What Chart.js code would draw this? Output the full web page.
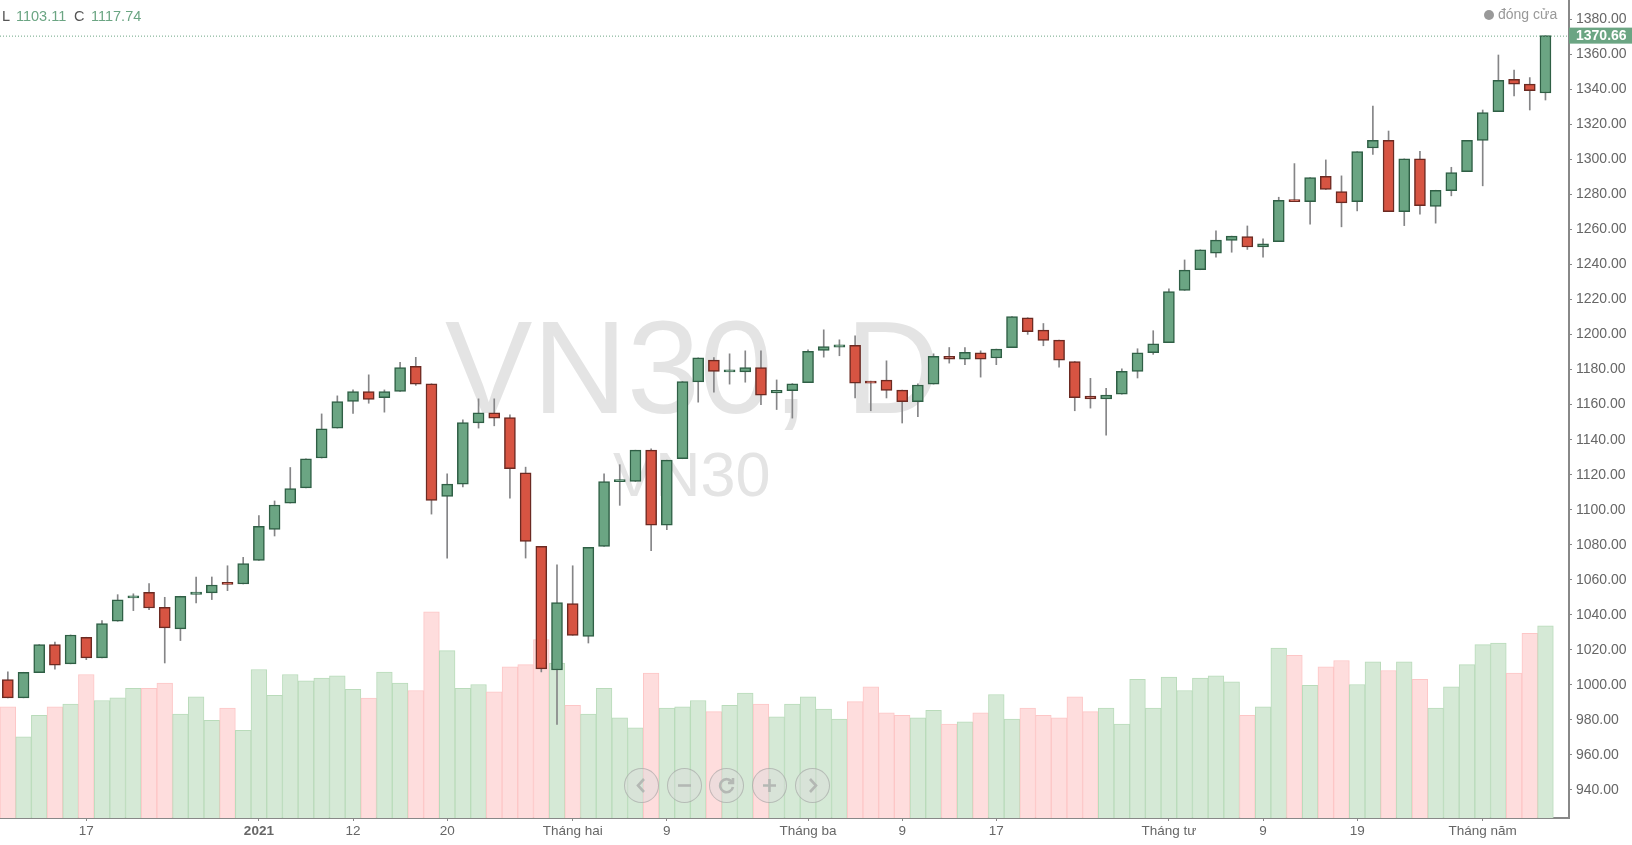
<!DOCTYPE html>
<html>
<head>
<meta charset="utf-8">
<title>VN30, D</title>
<script src="https://cdn.jsdelivr.net/npm/chart.js@4/dist/chart.umd.js"></script>
<style>
  html, body { margin: 0; padding: 0; background: #fff; overflow: hidden; }
  #wrap { position: relative; width: 1632px; height: 845px; font-family: "Liberation Sans", Arial, sans-serif; }
  #myChart { position: absolute; left: 0; top: 0; }
  .mark { position: absolute; line-height: 1; white-space: nowrap; color: #e4e4e4; }
  .head { position: absolute; top: 8px; font-size: 14.5px; line-height: 16px; color: #555; }
  .head.val { color: #6ba583; }
  .nav { position: absolute; top: 768px; width: 33px; height: 33px; border-radius: 50%;
         background: rgba(220, 220, 220, 0.45); border: 1px solid rgba(140, 140, 140, 0.45); }
  .nav svg { position: absolute; left: 8px; top: 8px; width: 17px; height: 17px; fill: none;
             stroke: #b4b8b4; stroke-width: 2.6; }
</style>
</head>
<body>
<div id="wrap">
  <div class="mark" style="left:445px;top:302px;font-size:131px">VN30, D</div>
  <div class="mark" style="left:613px;top:443px;font-size:63px">VN30</div>
  <canvas id="myChart" width="1632" height="845"></canvas>
  <div class="head" style="left:2px">L</div>
  <div class="head val" style="left:16px">1103.11</div>
  <div class="head" style="left:74px">C</div>
  <div class="head val" style="left:91px">1117.74</div>
  <div style="position:absolute;left:1484px;top:10px;width:10px;height:10px;border-radius:50%;background:#999"></div>
  <div class="head" style="left:1498px;top:6px;color:#999;font-size:14px">đóng cửa</div>
  <div class="nav" style="left:624px"><svg viewBox="0 0 17 17"><path d="M11 2 L5 8.5 L11 15"/></svg></div>
  <div class="nav" style="left:667px"><svg viewBox="0 0 17 17"><path d="M2 8.5 H15"/></svg></div>
  <div class="nav" style="left:709px"><svg viewBox="0 0 17 17"><path d="M14 5 A6.5 6.5 0 1 0 15 10 M15 1 V6 H10"/></svg></div>
  <div class="nav" style="left:752px"><svg viewBox="0 0 17 17"><path d="M2 8.5 H15 M8.5 2 V15"/></svg></div>
  <div class="nav" style="left:795px"><svg viewBox="0 0 17 17"><path d="M6 2 L12 8.5 L6 15"/></svg></div>
</div>
<script>
const opens = [1003, 992.6, 1007, 1023, 1012, 1027.2, 1015.4, 1036.3, 1049.6, 1052.8,
	1044.3, 1032, 1051.7, 1052.5, 1057.8, 1057.6, 1071, 1088.8, 1103.8, 1112.5,
	1129.5, 1146.6, 1161.8, 1167.5, 1163.9, 1167.5, 1181.9, 1171.9, 1107.6, 1114.6,
	1149.6, 1155.3, 1152.6, 1121, 1079.1, 1008.5, 1046.4, 1027.7, 1079.1, 1116,
	1116.1, 1134, 1091.2, 1129.1, 1173, 1185.4, 1178.7, 1178.7, 1181.2, 1166.7,
	1168, 1172.5, 1190.9, 1192.8, 1193.8, 1173.4, 1174, 1168.3, 1161.7, 1171.7,
	1187.5, 1186, 1189.6, 1186.6, 1192.5, 1209.6, 1202.5, 1196.8, 1184.6, 1164.9,
	1163.2, 1166, 1179, 1189.6, 1195.3, 1225.2, 1237, 1246.5, 1253.7, 1256,
	1250, 1253.1, 1276.7, 1275.9, 1290.4, 1281.6, 1275.9, 1306.5, 1310.9, 1270.2,
	1300.3, 1273.1, 1282.2, 1293, 1310.9, 1327.3, 1345.7, 1343, 1337.9];
const highs = [1007.4, 1007.2, 1023, 1024.5, 1028.5, 1027.2, 1036.7, 1051.5, 1052, 1057.8,
	1050, 1050.6, 1061.6, 1061.6, 1068, 1072.8, 1096.6, 1105, 1124.1, 1129,
	1154.7, 1165, 1168.4, 1177, 1168.4, 1184.2, 1187, 1171.9, 1120.5, 1151.3,
	1163.3, 1163.3, 1154.2, 1124.3, 1079.1, 1068.6, 1068, 1078.5, 1120.5, 1125.7,
	1134, 1134.8, 1128.3, 1173.2, 1186.7, 1186.9, 1189, 1190.7, 1190.7, 1174.1,
	1172, 1191.3, 1202.7, 1197, 1199.3, 1173.4, 1185, 1168.3, 1171.9, 1189,
	1192.6, 1192.6, 1190.7, 1191.7, 1210.3, 1209.6, 1206.3, 1196.8, 1184.6, 1175,
	1169.3, 1180.5, 1191.9, 1202.2, 1226.1, 1242.6, 1248.4, 1259.2, 1256.2, 1262,
	1254.6, 1278.4, 1297.6, 1289.6, 1299.7, 1290.6, 1304.4, 1330.5, 1316.2, 1300.3,
	1304.6, 1282.4, 1295.5, 1310.9, 1328.2, 1359.6, 1351, 1346.7, 1370.66];
const lows = [992.6, 992.6, 1007, 1009, 1012, 1014.4, 1015.4, 1036.3, 1042.4, 1043,
	1012.5, 1025.3, 1046.8, 1048.7, 1053.8, 1057.6, 1071, 1085, 1103.8, 1112.5,
	1129.5, 1146.6, 1155, 1160.8, 1155.7, 1167.5, 1171, 1097.5, 1072.4, 1113,
	1146.6, 1147.9, 1106.6, 1072.4, 1007.4, 977.4, 1028.3, 1023.9, 1079.1, 1102.5,
	1116.1, 1076.6, 1088.6, 1129.1, 1161.4, 1167.1, 1171.7, 1172.8, 1160, 1157.2,
	1152.3, 1172.5, 1187.1, 1187.9, 1163.8, 1156.5, 1163.8, 1149.5, 1153.1, 1171.7,
	1183.7, 1182.8, 1175.7, 1182.8, 1192.5, 1200.1, 1193.6, 1181.4, 1156.5, 1158,
	1142.5, 1166, 1175.2, 1188.7, 1195.3, 1225.2, 1237, 1244.2, 1247, 1248.6,
	1244.2, 1253.1, 1275.9, 1263, 1282.8, 1261.5, 1270.6, 1302.9, 1270.2, 1262.2,
	1268.7, 1263.6, 1279.2, 1293, 1284.9, 1327.3, 1336.2, 1328.2, 1333.9];
const closes = [992.6, 1007.2, 1023, 1011.2, 1028.5, 1015.4, 1035, 1048.5, 1050.8, 1043.9,
	1032.5, 1050.6, 1053, 1057, 1057.4, 1069.2, 1090.5, 1102.7, 1112, 1129,
	1146.2, 1161.8, 1167.5, 1163, 1167.5, 1181.2, 1171.7, 1105.3, 1114.6, 1149.8,
	1155.3, 1152.3, 1123.4, 1081.9, 1009.1, 1047, 1028.3, 1078.5, 1116.1, 1116.4,
	1134, 1091.2, 1128.3, 1173.2, 1186.7, 1178.9, 1179, 1181.2, 1165.4, 1168.2,
	1171.9, 1190.4, 1193.2, 1194.2, 1172.3, 1172.3, 1168.1, 1161.7, 1171.2, 1187.5,
	1186, 1189.8, 1186, 1191.7, 1210.3, 1201.6, 1196.6, 1185.4, 1164, 1163.2,
	1165.5, 1179, 1189.6, 1194.7, 1224.6, 1236.8, 1248.4, 1253.9, 1256.2, 1250,
	1251.8, 1276.7, 1275.9, 1289.6, 1282.8, 1275.2, 1304.4, 1310.9, 1270.2, 1300.3,
	1273.6, 1282.4, 1292.5, 1310.9, 1326.7, 1345.1, 1342.9, 1339.2, 1370.66];
// relative volume, the real unit is not shown in the picture
const volumes = [63.5, 46.4, 58.6, 63.5, 65, 81.9, 67.1, 68.6, 74.1, 74.1,
	77, 59.3, 69.2, 55.7, 62.7, 50, 84.8, 70, 81.9, 78.3,
	79.9, 81.2, 73.4, 68.4, 83.3, 77, 72.8, 117.7, 95.6, 74.1,
	76.2, 72.1, 86.3, 87.6, 101.9, 88.4, 64.3, 59.3, 74.1, 57.2,
	51.5, 82.7, 62.7, 63.5, 67.1, 60.7, 64.3, 71.3, 65, 57.8,
	65, 69.2, 62.2, 56.5, 66.4, 74.9, 60.1, 58.6, 57.2, 61.4,
	53.6, 54.9, 60.1, 70.5, 56.5, 62.7, 58.6, 57.2, 69.2, 60.7,
	62.7, 53.6, 79.1, 62.7, 80.4, 72.8, 79.9, 81.2, 77.8, 58.6,
	63.5, 97, 92.8, 75.7, 86.3, 89.9, 76.2, 89.2, 84.2, 89.2,
	79.1, 62.7, 74.9, 87.6, 99, 99.8, 82.7, 105.5, 109.7];

const priceTicks = [1380, 1360, 1340, 1320, 1300, 1280, 1260, 1240, 1220, 1200, 1180, 1160, 1140,
	1120, 1100, 1080, 1060, 1040, 1020, 1000, 980, 960, 940];
const tickIndexes = [5, 16, 22, 28, 36, 42, 51, 57, 63, 74, 80, 86, 94];
const tickLabels = ['17', '2021', '12', '20', 'Tháng hai', '9', 'Tháng ba', '9', '17', 'Tháng tư', '9', '19', 'Tháng năm'];
const lastPrice = 1370.66;

const upColor = '#6ba583', downColor = '#d75442';
const upBorder = '#2f5f45', downBorder = '#6b2a22';
const isUp = (i) => closes[i] >= opens[i];

// one empty slot stays on the right of the last candle
const categories = [...closes.keys(), closes.length];
const bodies = opens.map((o, i) => [o, closes[i]]);
const wicks = lows.map((l, i) => [l, highs[i]]);
const font = { family: '"Liberation Sans", Arial, sans-serif', size: 14 };

// dotted line and box with the last price
const lastPricePlugin = {
	id: 'lastPrice',
	afterDraw(chart) {
		const c = chart.ctx, y = chart.scales.y.getPixelForValue(lastPrice);
		const right = chart.chartArea.right;
		c.save();
		c.strokeStyle = upColor;
		c.setLineDash([1, 2]);
		c.beginPath();
		c.moveTo(0, y + 0.5);
		c.lineTo(right, y + 0.5);
		c.stroke();
		c.setLineDash([]);
		c.fillStyle = upColor;
		c.fillRect(right, y - 8, 63, 16);
		c.fillStyle = '#fff';
		c.font = 'bold 14px "Liberation Sans", Arial, sans-serif';
		c.textBaseline = 'middle';
		c.fillText(lastPrice.toFixed(2), right + 7, y + 0.5);
		c.restore();
	}
};

var ctx = document.getElementById('myChart').getContext('2d');

var myChart = new Chart(ctx, {
	type: 'bar',
	data: {
		labels: categories,
		datasets: [
			{
				label: 'body',
				data: bodies,
				yAxisID: 'y',
				order: 1,
				grouped: false,
				barThickness: 11,
				minBarLength: 2,
				borderWidth: 1.5,
				borderSkipped: false,
				backgroundColor: closes.map((c, i) => (isUp(i) ? upColor : downColor)),
				borderColor: closes.map((c, i) => (isUp(i) ? upBorder : downBorder))
			},
			{
				label: 'wick',
				data: wicks,
				yAxisID: 'y',
				order: 2,
				grouped: false,
				barThickness: 1,
				borderWidth: 0,
				backgroundColor: '#858587'
			},
			{
				label: 'volume',
				data: volumes,
				yAxisID: 'volume',
				order: 3,
				grouped: false,
				barPercentage: 1,
				categoryPercentage: 1,
				borderWidth: 1,
				borderSkipped: 'bottom',
				backgroundColor: closes.map((c, i) => (isUp(i) ? '#d5e9d6' : '#fedddd')),
				borderColor: closes.map((c, i) => (isUp(i) ? '#b9dbba' : '#fdc6c6'))
			}
		]
	},
	plugins: [lastPricePlugin],
	options: {
		responsive: false,
		animation: false,
		layout: { padding: 0 },
		plugins: { legend: { display: false }, tooltip: { enabled: false } },
		scales: {
			x: {
				offset: true,
				grid: { offset: false, drawOnChartArea: false, tickLength: 3, tickColor: '#888' },
				border: { color: '#888', width: 2 },
				ticks: {
					autoSkip: false,
					maxRotation: 0,
					padding: 2,
					color: '#666',
					font: (c) => ({ ...font, size: 13.5, weight: c.tick && c.tick.value === 16 ? 'bold' : 'normal' }),
					callback: (v) => tickLabels[tickIndexes.indexOf(v)]
				},
				afterBuildTicks: (scale) => {
					scale.ticks = tickIndexes.map((i) => ({ value: i }));
				},
				afterFit: (scale) => {
					scale.height = 27;
					scale.paddingLeft = 0;
					scale.paddingRight = 0;
				}
			},
			y: {
				position: 'right',
				min: 924,
				max: 1391,
				grid: { drawOnChartArea: false, tickLength: 3, tickColor: '#888' },
				border: { color: '#888', width: 2 },
				ticks: {
					padding: 4,
					color: '#666',
					font: font,
					callback: (v) => v.toFixed(2)
				},
				afterBuildTicks: (scale) => {
					scale.ticks = priceTicks.map((v) => ({ value: v }));
				},
				afterFit: (scale) => {
					scale.width = 63;
					scale.paddingTop = 0;
					scale.paddingBottom = 0;
				}
			},
			volume: {
				display: false,
				min: 0,
				max: 467
			}
		}
	}
});
</script>
</body>
</html>
